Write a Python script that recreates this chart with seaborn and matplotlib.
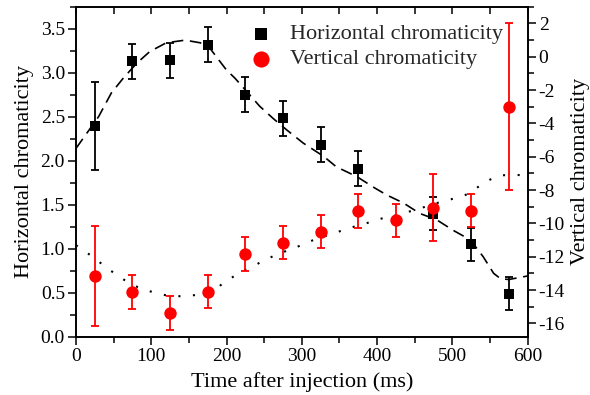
import matplotlib
matplotlib.use('Agg')
import matplotlib.pyplot as plt
import seaborn as sns
from matplotlib.ticker import MultipleLocator

# ---- data ----
h_t = [25, 75, 125, 175, 225, 275, 325, 375, 475, 525, 575]
h_val = [2.39, 3.13, 3.14, 3.32, 2.75, 2.48, 2.18, 1.91, 1.40, 1.05, 0.49]
h_err = [0.50, 0.20, 0.20, 0.20, 0.20, 0.20, 0.20, 0.20, 0.19, 0.19, 0.19]

v_t = [25, 75, 125, 175, 225, 275, 325, 375, 425, 475, 525, 575]
v_val = [-13.15, -14.12, -15.37, -14.10, -11.83, -11.15, -10.49, -9.25, -9.82, -9.05, -9.23, -3.00]
v_err = [3.0, 1.0, 1.0, 1.0, 1.0, 1.0, 1.0, 1.0, 1.0, 2.0, 1.0, 5.0]

h_fit_t = [0, 30, 47, 63, 81, 98, 120, 145, 165, 176, 200, 211, 244, 262, 280, 302,
           329, 346, 373, 397, 413, 435, 457, 479, 501, 524, 541, 555, 564, 575, 594, 600]
h_fit_v = [2.14, 2.50, 2.77, 2.94, 3.11, 3.24, 3.34, 3.37, 3.34, 3.30, 3.03, 2.94, 2.62, 2.48, 2.35, 2.20,
           2.05, 1.93, 1.82, 1.69, 1.61, 1.52, 1.40, 1.33, 1.21, 1.10, 0.91, 0.72, 0.66, 0.65, 0.68, 0.69]

v_fit_t = [0, 13, 27, 40, 53, 66, 79, 93, 106, 119, 132, 145, 157, 171, 184, 196, 209, 222, 236, 249,
           262, 276, 289, 301, 315, 328, 341, 355, 368, 381, 393, 406, 420, 433, 446, 470, 484, 497,
           510, 524, 537, 550, 563, 576, 588, 600]
v_fit_v = [-11.31, -11.71, -12.17, -12.65, -13.05, -13.45, -13.77, -14.01, -14.17, -14.31, -14.37, -14.37,
           -14.31, -14.17, -14.01, -13.57, -13.20, -12.85, -12.57, -12.23, -11.97, -11.71, -11.51, -11.27,
           -11.01, -10.81, -10.61, -10.41, -10.22, -10.05, -9.90, -9.71, -9.57, -9.38, -9.26, -8.92, -8.72,
           -8.57, -8.42, -8.18, -7.72, -7.38, -7.12, -7.10, -7.10, -7.10]

x_label = "Time after injection (ms)"
yl_label = "Horizontal chromaticity"
yr_label = "Vertical chromaticity"
leg_h = "Horizontal chromaticity"
leg_v = "Vertical chromaticity"

# ---- style ----
sns.set_theme(style='ticks')
plt.rcParams['font.family'] = ['Liberation Serif', 'DejaVu Serif']
plt.rcParams['axes.unicode_minus'] = False

fig = plt.figure(figsize=(5.9, 3.95), dpi=100)
ax = fig.add_axes([0.1288, 0.1476, 0.7653, 0.8354])
ax2 = ax.twinx()

# horizontal (left axis)
sns.lineplot(x=h_fit_t, y=h_fit_v, ax=ax, color='black', linewidth=1.2,
             linestyle=(0, (7, 4)), sort=False, estimator=None)
ax.errorbar(h_t, h_val, yerr=h_err, fmt='none', ecolor='black', elinewidth=1.3,
            capsize=3, capthick=1.3, zorder=3)
sns.scatterplot(x=h_t, y=h_val, ax=ax, marker='s', s=48, color='black',
                edgecolor='black', linewidth=0, label=leg_h, zorder=4)

# vertical (right axis)
sns.lineplot(x=v_fit_t, y=v_fit_v, ax=ax2, color='black', linewidth=1.5,
             linestyle=(0, (1, 6)), sort=False, estimator=None)
ax2.errorbar(v_t, v_val, yerr=v_err, fmt='none', ecolor='red', elinewidth=1.3,
             capsize=3, capthick=1.3, zorder=3)
sns.scatterplot(x=v_t, y=v_val, ax=ax2, marker='o', s=80, color='red',
                edgecolor='red', linewidth=0, label=leg_v, zorder=4)

ax.set_xlim(0, 600)
ax.set_ylim(0, 3.75)
ax2.set_ylim(-16.8, 3.0)

ax.xaxis.set_major_locator(MultipleLocator(100))
ax.xaxis.set_minor_locator(MultipleLocator(50))
ax.yaxis.set_major_locator(MultipleLocator(0.5))
ax.yaxis.set_minor_locator(MultipleLocator(0.25))
ax2.yaxis.set_major_locator(MultipleLocator(2))
ax2.yaxis.set_minor_locator(MultipleLocator(1))
ax.yaxis.set_major_formatter(matplotlib.ticker.FormatStrFormatter('%.1f'))

for a in (ax, ax2):
    for sp in a.spines.values():
        sp.set_linewidth(1.2)
        sp.set_color('black')

ax.tick_params(axis='x', which='both', direction='out', bottom=True, top=False,
               labelsize=14, colors='black', width=1.1, pad=2)
ax.tick_params(axis='x', which='major', length=6)
ax.tick_params(axis='x', which='minor', length=4)
ax.tick_params(axis='y', which='both', direction='out', left=True, right=False,
               labelsize=14, colors='black', width=1.1, pad=2)
ax.tick_params(axis='y', which='major', length=6)
ax.tick_params(axis='y', which='minor', length=4)
ax2.tick_params(axis='y', which='both', direction='out', labelsize=14, colors='black',
                width=1.1, pad=2)
ax2.tick_params(axis='y', which='major', length=6)
ax2.tick_params(axis='y', which='minor', length=4)

# top ticks pointing inward
ax2.xaxis.set_visible(True)
ax2.tick_params(axis='x', which='both', direction='in', bottom=False, top=True,
                labelbottom=False, labeltop=False, width=1.1, length=5, colors='black')

ax.set_xlabel(x_label, fontsize=16, color='black', labelpad=5)
ax.set_ylabel(yl_label, fontsize=16, color='black', labelpad=5)
ax2.set_ylabel(yr_label, fontsize=16, color='black', rotation=90,
               va='center', ha='center')
ax2.yaxis.set_label_coords(1.118, 0.5)

h1, l1 = ax.get_legend_handles_labels()
h2, l2 = ax2.get_legend_handles_labels()
if ax.get_legend() is not None:
    ax.get_legend().remove()
ax2.legend(h1 + h2, l1 + l2, loc='upper right', bbox_to_anchor=(0.98, 0.995),
           frameon=False, fontsize=16, handletextpad=0.3, labelspacing=0.2,
           borderaxespad=0.3, markerscale=1.3)

fig.savefig('out.png', dpi=100)
